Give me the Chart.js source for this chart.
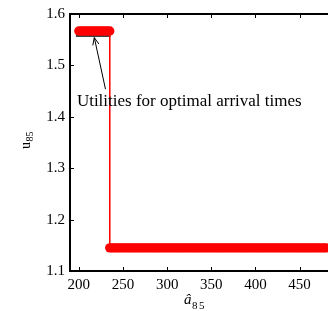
<!DOCTYPE html>
<html><head><meta charset="utf-8">
<script src="https://cdn.jsdelivr.net/npm/chart.js@4"></script>
<style>
html,body{margin:0;padding:0;overflow:hidden;background:#fff;width:328px;height:311px}
#wrap{position:absolute;left:0;top:0;width:360px;height:311px}
</style></head>
<body><div id="wrap"><canvas id="c" width="360" height="311"></canvas></div>
<script>
// ---- data ----
const upperX = [200,202.5,205,207.5,210,
                212.5,215,217.5,220,222.5,
                225,227.5,230,232.5,235];
const upperU = [1.567,1.567,1.567,1.567,1.567,
                1.567,1.567,1.567,1.567,1.567,
                1.567,1.567,1.567,1.567,1.567];
const lowerX = [235,237.5,240,242.5,245,247.5,250,252.5,255,257.5,260,
                262.5,265,267.5,270,272.5,275,277.5,280,282.5,285,287.5,
                290,292.5,295,297.5,300,302.5,305,307.5,310,312.5,315,
                317.5,320,322.5,325,327.5,330,332.5,335,337.5,340,342.5,
                345,347.5,350,352.5,355,357.5,360,362.5,365,367.5,370,
                372.5,375,377.5,380,382.5,385,387.5,390,392.5,395,397.5,
                400,402.5,405,407.5,410,412.5,415,417.5,420,422.5,425,
                427.5,430,432.5,435,437.5,440,442.5,445,447.5,450,452.5,
                455,457.5,460,462.5,465,467.5,470,472.5,475,477.5,480];
const lowerU = [1.145,1.145,1.145,1.145,1.145,1.145,1.145,1.145,1.145,1.145,1.145,
                1.145,1.145,1.145,1.145,1.145,1.145,1.145,1.145,1.145,1.145,1.145,
                1.145,1.145,1.145,1.145,1.145,1.145,1.145,1.145,1.145,1.145,1.145,
                1.145,1.145,1.145,1.145,1.145,1.145,1.145,1.145,1.145,1.145,1.145,
                1.145,1.145,1.145,1.145,1.145,1.145,1.145,1.145,1.145,1.145,1.145,
                1.145,1.145,1.145,1.145,1.145,1.145,1.145,1.145,1.145,1.145,1.145,
                1.145,1.145,1.145,1.145,1.145,1.145,1.145,1.145,1.145,1.145,1.145,
                1.145,1.145,1.145,1.145,1.145,1.145,1.145,1.145,1.145,1.145,1.145,
                1.145,1.145,1.145,1.145,1.145,1.145,1.145,1.145,1.145,1.145,1.145];
const bracketX = [196.7, 236];
const bracketU = [1.5573, 1.5573];
const xTicks = [200,250,300,350,400,450,500];
const yTicks = [1.1,1.2,1.3,1.4,1.5,1.6];
const annotationText = 'Utilities for optimal arrival times';
const annotationAt = {x:197.8, y:1.4213};
const arrowTail = {x:230.2, y:1.4537};
const arrowTip = {x:217.5, y:1.5542};

const allX = upperX.concat(lowerX);
const allU = upperU.concat(lowerU);
const serif = '"Liberation Serif","Times New Roman",serif';

const decor = {
  id:'decor',
  afterDraw(chart){
    const ctx = chart.ctx, a = chart.chartArea;
    const xs = chart.scales.x, ys = chart.scales.y;
    ctx.save();
    ctx.strokeStyle = '#000';
    // top border
    ctx.lineWidth = 2;
    ctx.beginPath(); ctx.moveTo(a.left-1, a.top); ctx.lineTo(a.right, a.top); ctx.stroke();
    // inward ticks
    ctx.lineWidth = 1;
    ctx.beginPath();
    xTicks.forEach(v=>{
      const p = Math.round(xs.getPixelForValue(v))+0.5;
      ctx.moveTo(p, a.bottom); ctx.lineTo(p, a.bottom-4);
      ctx.moveTo(p, a.top); ctx.lineTo(p, a.top+4);
    });
    yTicks.forEach(v=>{
      const p = Math.round(ys.getPixelForValue(v))+0.5;
      ctx.moveTo(a.left, p); ctx.lineTo(a.left+4, p);
    });
    ctx.stroke();
    // arrow
    const tx = xs.getPixelForValue(arrowTail.x), ty = ys.getPixelForValue(arrowTail.y);
    const hx = xs.getPixelForValue(arrowTip.x), hy = ys.getPixelForValue(arrowTip.y);
    ctx.beginPath(); ctx.moveTo(tx,ty); ctx.lineTo(hx,hy); ctx.stroke();
    const ang = Math.atan2(hy-ty, hx-tx), L = 8, w = 0.4;
    ctx.beginPath();
    ctx.moveTo(hx - L*Math.cos(ang-w), hy - L*Math.sin(ang-w));
    ctx.lineTo(hx, hy);
    ctx.lineTo(hx - L*Math.cos(ang+w), hy - L*Math.sin(ang+w));
    ctx.stroke();
    // annotation text
    ctx.fillStyle = '#000';
    ctx.textBaseline = 'alphabetic';
    ctx.textAlign = 'left';
    ctx.font = '17px ' + serif;
    ctx.fillText(annotationText, xs.getPixelForValue(annotationAt.x), ys.getPixelForValue(annotationAt.y));
    // x axis title: a-hat subscript 8 5
    ctx.font = 'italic 15px ' + serif;
    ctx.fillText('\u00e2', 184, 304);
    ctx.font = '11px ' + serif;
    ctx.fillText('8', 192, 309);
    ctx.fillText('5', 199, 309);
    // y axis title: u subscript 85 (rotated)
    ctx.translate(29.5, 149);
    ctx.rotate(-Math.PI/2);
    ctx.font = '14px ' + serif;
    ctx.fillText('u', 0, 0);
    ctx.font = '10px ' + serif;
    ctx.fillText('85', 7.5, 3);
    ctx.restore();
  }
};

new Chart(document.getElementById('c'), {
  type:'scatter',
  data:{datasets:[
    {data: allX.map((x,i)=>({x:x, y:allU[i]})), showLine:true, borderColor:'#ff0000', borderWidth:1,
     pointRadius:4.7, pointBackgroundColor:'#ff0000', pointBorderColor:'#ff0000', pointBorderWidth:0, pointHoverRadius:4.7},
    {data: bracketX.map((x,i)=>({x:x, y:bracketU[i]})), showLine:true, borderColor:'#000', borderWidth:1.5, pointRadius:0}
  ]},
  options:{
    responsive:false, animation:false, devicePixelRatio:1,
    layout:{padding:{top:8,right:6,left:0,bottom:0}},
    plugins:{legend:{display:false}, tooltip:{enabled:false}},
    scales:{
      x:{type:'linear', min:190, max:500,
        afterBuildTicks:s=>{s.ticks = xTicks.map(v=>({value:v}));},
        afterFit:s=>{s.height = 40;},
        grid:{display:false, drawTicks:false},
        border:{display:true, color:'#000', width:2},
        ticks:{color:'#000', font:{family:serif, size:15}, padding:5, maxRotation:0, autoSkip:false, callback:v=>String(v)}},
      y:{type:'linear', min:1.1, max:1.6,
        afterBuildTicks:s=>{s.ticks = yTicks.map(v=>({value:v}));},
        afterFit:s=>{s.width = 70;},
        grid:{display:false, drawTicks:false},
        border:{display:true, color:'#000', width:2},
        ticks:{color:'#000', font:{family:serif, size:15}, padding:5, autoSkip:false, callback:v=>Number(v).toFixed(1)}}
    }
  },
  plugins:[decor]
});
</script>
</body></html>
